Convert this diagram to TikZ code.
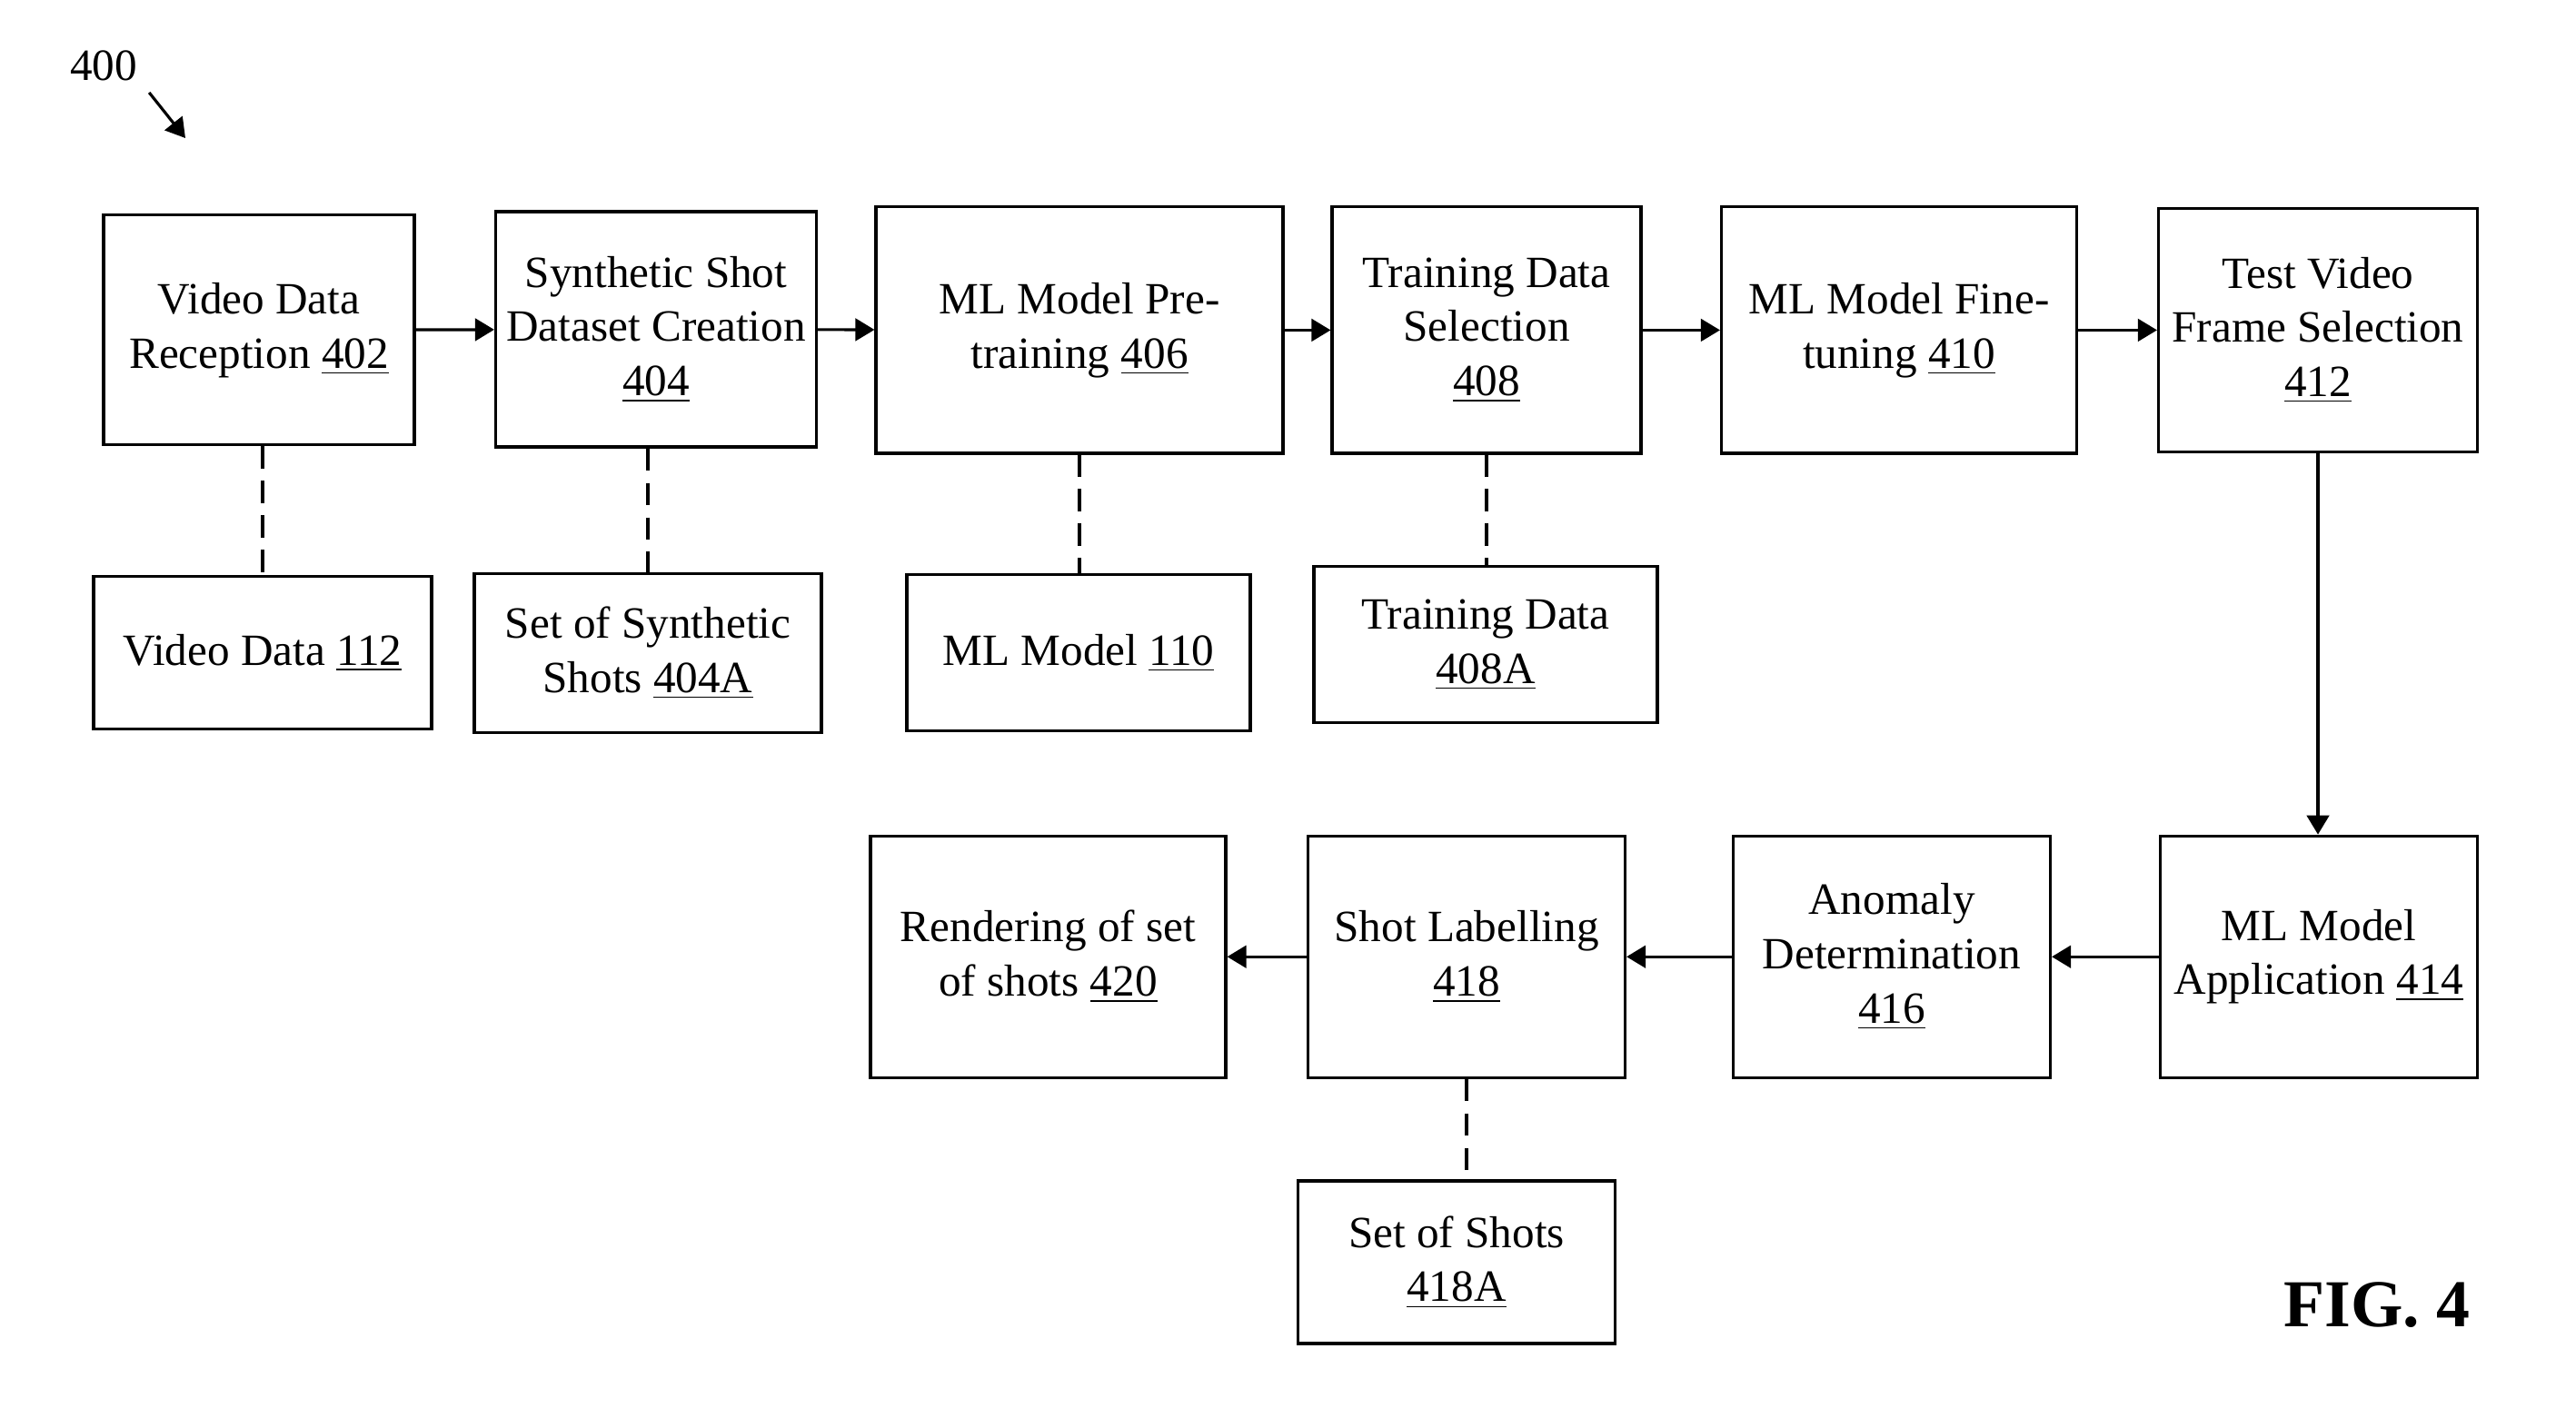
\documentclass[tikz,border=0pt]{standalone}
\usepackage{fontspec}
\setmainfont{Liberation Serif}
\usetikzlibrary{arrows.meta}

\begin{document}
\begin{tikzpicture}[>={Triangle[length=6pt, width=7pt]}, line width=0.9pt,
    blk/.style={draw, align=center, inner sep=0pt, font=\fontsize{14}{17}\selectfont},
    link/.style={dash pattern=on 7pt off 3.8pt}]
                \useasboundingbox (0, 0) rectangle (28.35, -15.49);
                \node[font=\fontsize{14}{17}\selectfont] (ref) at (1.14, -0.72) {400};
                \coordinate (refend) at (2.04, -1.52);
                \draw[->] (ref.south east) -- (refend);
                \node[blk, minimum width=3.42cm, minimum height=2.53cm] (vdr) at (2.85, -3.634) {Video Data\\Reception \underline{402}};
                \node[blk, minimum width=3.53cm, minimum height=2.59cm] (ssd) at (7.22, -3.625) {Synthetic Shot\\Dataset Creation\\\underline{404}};
                \node[blk, minimum width=4.48cm, minimum height=2.71cm] (pre) at (11.88, -3.634) {ML Model Pre-\\training \underline{406}};
                \node[blk, minimum width=3.40cm, minimum height=2.71cm] (tds) at (16.36, -3.634) {Training Data\\Selection\\\underline{408}};
                \node[blk, minimum width=3.91cm, minimum height=2.71cm] (fine) at (20.90, -3.634) {ML Model Fine-\\tuning \underline{410}};
                \node[blk, minimum width=3.51cm, minimum height=2.68cm] (tvf) at (25.51, -3.634) {Test Video\\Frame Selection\\\underline{412}};
                \node[blk, minimum width=3.72cm, minimum height=1.68cm] (vd) at (2.89, -7.187) {Video Data \underline{112}};
                \node[blk, minimum width=3.82cm, minimum height=1.75cm] (sss) at (7.13, -7.187) {Set of Synthetic\\Shots \underline{404A}};
                \node[blk, minimum width=3.78cm, minimum height=1.72cm] (mlm) at (11.87, -7.187) {ML Model \underline{110}};
                \node[blk, minimum width=3.78cm, minimum height=1.72cm] (td) at (16.35, -7.096) {Training Data\\\underline{408A}};
                \node[blk, minimum width=3.91cm, minimum height=2.66cm] (ren) at (11.535, -10.532) {Rendering of set\\of shots \underline{420}};
                \node[blk, minimum width=3.49cm, minimum height=2.66cm] (lab) at (16.14, -10.532) {Shot Labelling\\\underline{418}};
                \node[blk, minimum width=3.49cm, minimum height=2.66cm] (ano) at (20.82, -10.532) {Anomaly\\Determination\\\underline{416}};
                \node[blk, minimum width=3.49cm, minimum height=2.66cm] (app) at (25.52, -10.532) {ML Model\\Application \underline{414}};
                \node[blk, minimum width=3.49cm, minimum height=1.79cm] (sos) at (16.03, -13.895) {Set of Shots\\\underline{418A}};
                \node[font=\bfseries\fontsize{21}{25}\selectfont] (fig) at (26.16, -14.37) {FIG. 4};
                \draw[->] (vdr) -- (ssd);
                \draw[->] (ssd) -- (pre);
                \draw[->] (pre) -- (tds);
                \draw[->] (tds) -- (fine);
                \draw[->] (fine) -- (tvf);
                \draw[->] (tvf.south) -- (tvf.south |- app.north);
                \draw[->] (app) -- (ano);
                \draw[->] (ano) -- (lab);
                \draw[->] (lab) -- (ren);
                \draw[link] (vd.north |- vdr.south) -- (vd.north);
                \draw[link] (sss.north |- ssd.south) -- (sss.north);
                \draw[link] (pre.south) -- (pre.south |- mlm.north);
                \draw[link] (tds.south) -- (tds.south |- td.north);
                \draw[link] (lab.south) -- (lab.south |- sos.north);
            \end{tikzpicture}
\end{document}
